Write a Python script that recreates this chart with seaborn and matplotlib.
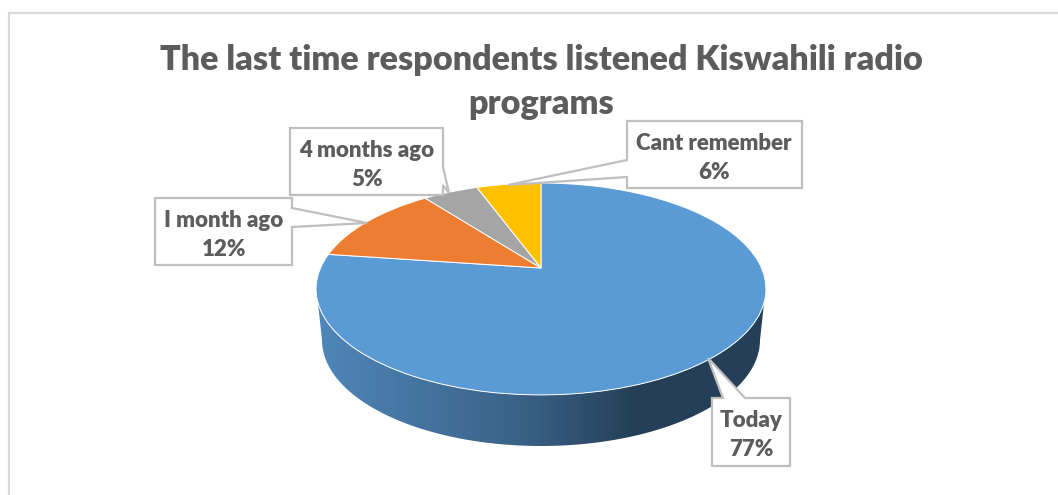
import numpy as np
import matplotlib
matplotlib.use("Agg")
import matplotlib.pyplot as plt
import seaborn as sns
from matplotlib.colors import LinearSegmentedColormap
from matplotlib.patches import Polygon
from matplotlib.path import Path
from matplotlib.transforms import Transform

# Data
categories = ["Today", "I month ago", "4 months ago", "Cant remember"]
slice_values = [77.2, 12.4, 4.8, 5.6]
percent_labels = ["77%", "12%", "5%", "6%"]
slice_colors = ["#5B9BD5", "#ED7D31", "#A5A5A5", "#FFC000"]

title_text = "The last time respondents listened Kiswahili radio\nprograms"
text_color = "#5C5C5C"
box_color = "#BFBFBF"

sns.set_theme(style="white")
plt.rcParams["font.family"] = ["Lato", "DejaVu Sans"]


# Perspective tilt so the pie apex sits above the middle of the ellipse
class TiltTransform(Transform):
    input_dims = 2
    output_dims = 2

    def __init__(self, cx, cy, a, b, k):
        super().__init__()
        self.cx, self.cy, self.a, self.b, self.k = cx, cy, a, b, k

    def transform_non_affine(self, values):
        values = np.asarray(values)
        w = 1 + self.k * values[:, 1]
        return np.column_stack([self.cx + self.a * values[:, 0] / w,
                                self.cy - self.b * values[:, 1] / w])

    def transform_path_non_affine(self, path):
        path = path.interpolated(8) if path.codes is None else path
        return Path(self.transform_non_affine(path.vertices), path.codes)


tilt = TiltTransform(541, 268, 220.5, 101.8, 0.198)

fig = plt.figure(figsize=(10.58, 4.95), dpi=100)
ax = fig.add_axes([0, 0, 1, 1])

wedges, _ = ax.pie(slice_values, colors=sns.color_palette(slice_colors), startangle=90,
                   counterclock=False, radius=1,
                   wedgeprops={"edgecolor": "white", "linewidth": 0.7, "zorder": 3})
ax.set_aspect("auto")
ax.set_xlim(0, 1058)
ax.set_ylim(495, 0)
ax.axis("off")
for w in wedges:
    w.set_transform(tilt + ax.transData)

# Side of the pie: gradient clipped to the band under the front edge
t = np.linspace(np.pi, 2 * np.pi, 200)
upper = np.column_stack([541 + 225 * np.cos(t), 289 - 106 * np.sin(t)])
lower = np.column_stack([541 + 219 * np.cos(t), 340 - 106 * np.sin(t)])
band = np.vstack([upper[0] + [0, -4], lower, upper[-1] + [0, -4], upper[::-1]])
side_cmap = LinearSegmentedColormap.from_list(
    "side", [(0, "#4F87B9"), (0.2, "#4676A3"), (0.45, "#3A6288"), (0.65, "#2A4862"),
             (0.72, "#243F57"), (1, "#243F57")])
grad = ax.imshow(np.linspace(0, 1, 256).reshape(1, -1), cmap=side_cmap, aspect="auto",
                 extent=[316, 766, 450, 280], zorder=1)
ax.set_xlim(0, 1058)
ax.set_ylim(495, 0)
band_patch = Polygon(band, closed=True, facecolor="none", edgecolor="none",
                     transform=ax.transData)
ax.add_patch(band_patch)
grad.set_clip_path(band_patch)

# Chart frame, only top and left show in the crop
ax.plot([9, 9, 1058], [495, 13, 13], color="#D9D9D9", lw=1.6, zorder=1,
        solid_joinstyle="miter")

ax.text(541, 82, title_text, ha="center", va="center", fontsize=24.6, fontweight=800,
        color=text_color, linespacing=1.5, zorder=6)

# Callout boxes with pointers (x, y in pixels)
callouts = {
    "Today": [(712, 398), (723, 398), (708, 358), (745, 398), (790, 398), (790, 466), (712, 466)],
    "I month ago": [(155, 198), (292, 198), (292, 208), (367, 223), (292, 227), (292, 265), (155, 265)],
    "4 months ago": [(290, 128), (443, 128), (443, 167), (449, 193), (443, 185), (443, 195), (290, 195)],
    "Cant remember": [(627, 121), (802, 121), (802, 188), (627, 188), (627, 177), (508, 185), (627, 160)],
}
label_centers = {"Today": (751, 435), "I month ago": (224, 235),
                 "4 months ago": (367, 165), "Cant remember": (714, 158)}

for name, pct in zip(categories, percent_labels):
    ax.add_patch(Polygon(callouts[name], closed=True, facecolor="white", edgecolor=box_color,
                         linewidth=1.6, joinstyle="miter", zorder=4))
    x, y = label_centers[name]
    ax.text(x, y, f"{name}\n{pct}", ha="center", va="center", fontsize=16, fontweight=800,
            color=text_color, linespacing=1.5, zorder=5)

fig.savefig("out.png", dpi=100)
